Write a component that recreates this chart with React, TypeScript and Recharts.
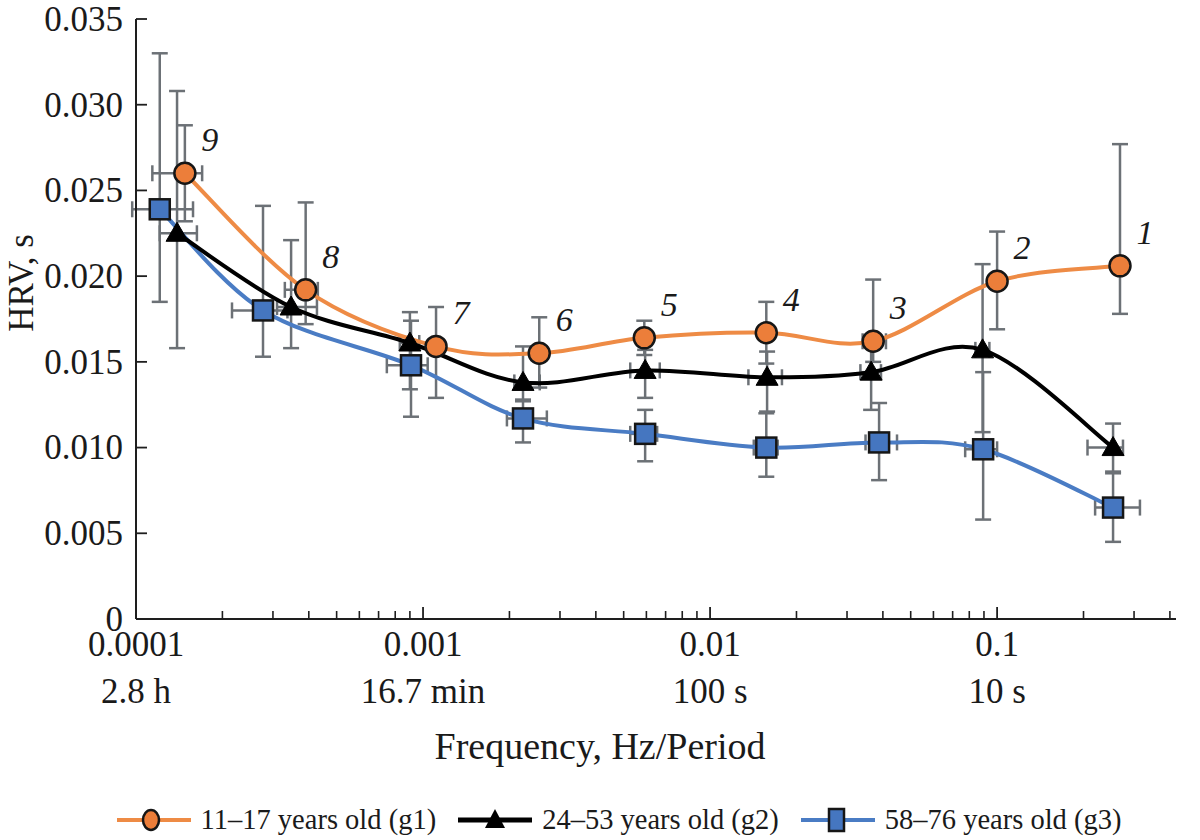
import React from 'react';
import { ComposedChart, Line, Scatter, XAxis, YAxis, ErrorBar, Legend } from 'recharts';

// ---------- data ----------
const pointLabels = ['9', '8', '7', '6', '5', '4', '3', '2', '1'];
const seriesNames = ['11–17 years old (g1)', '24–53 years old (g2)', '58–76 years old (g3)'];

const g1Freq = [1.48e-4, 3.9e-4, 1.11e-3, 2.54e-3, 5.9e-3, 1.57e-2, 3.7e-2, 0.1, 0.268];
const g1Hrv = [0.026, 0.0192, 0.0159, 0.0155, 0.0164, 0.0167, 0.0162, 0.0197, 0.0206];
const g1ErrY = [[0.0028, 0.0028], [0.002, 0.0051], [0.003, 0.0023], [0.002, 0.0021], [0.001, 0.001], [0.0018, 0.0018], [0.0012, 0.0036], [0.0028, 0.0029], [0.0028, 0.0071]];
const g1ErrX = [[0.34e-4, 0.22e-4], [0.6e-4, 0.4e-4], [0.6e-4, 0.6e-4], [1.5e-4, 1.5e-4], [0.3e-3, 0.3e-3], [0.8e-3, 0.8e-3], [0.3e-2, 0.4e-2], [0.5e-2, 0.5e-2], [0.01, 0.01]];

const g2Freq = [1.39e-4, 3.47e-4, 9.0e-4, 2.23e-3, 5.94e-3, 1.58e-2, 3.64e-2, 8.9e-2, 0.2535];
const g2Hrv = [0.0225, 0.0182, 0.0161, 0.0138, 0.0145, 0.0141, 0.0144, 0.0157, 0.01];
const g2ErrY = [[0.0067, 0.0083], [0.0024, 0.0039], [0.0027, 0.0018], [0.001, 0.0021], [0.0016, 0.0012], [0.002, 0.0015], [0.0022, 0.0015], [0.0048, 0.005], [0.0014, 0.0014]];
const g2ErrX = [[0.18e-4, 0.24e-4], [0.37e-4, 0.8e-4], [0.7e-4, 0.7e-4], [1.5e-4, 3.2e-4], [6.7e-4, 7.4e-4], [0.22e-2, 0.2e-2], [0.3e-2, 0.3e-2], [0.5e-2, 0.5e-2], [0.047, 0.021]];

const g3Freq = [1.21e-4, 2.77e-4, 9.08e-4, 2.23e-3, 5.94e-3, 1.57e-2, 3.88e-2, 8.94e-2, 0.2535];
const g3Hrv = [0.0239, 0.018, 0.0148, 0.0117, 0.0108, 0.01, 0.0103, 0.0099, 0.0065];
const g3ErrY = [[0.0054, 0.0091], [0.0027, 0.0061], [0.003, 0.0026], [0.0014, 0.001], [0.0016, 0.0014], [0.0017, 0.002], [0.0022, 0.0023], [0.0041, 0.0045], [0.002, 0.002]];
const g3ErrX = [[0.24e-4, 0.37e-4], [0.61e-4, 0.6e-4], [1.6e-4, 1.3e-4], [2.7e-4, 4.7e-4], [0.67e-3, 0.6e-3], [0.15e-2, 0.15e-2], [0.4e-2, 0.6e-2], [1.2e-2, 1.06e-2], [0.034, 0.061]];

const majorTicks = [0.0001, 0.001, 0.01, 0.1];
const freqTickLabels = ['0.0001', '0.001', '0.01', '0.1'];
const periodTickLabels = ['2.8 h', '16.7 min', '100 s', '10 s'];
const minorTicks = [
  0.0002, 0.0003, 0.0004, 0.0005, 0.0006, 0.0007, 0.0008, 0.0009,
  0.002, 0.003, 0.004, 0.005, 0.006, 0.007, 0.008, 0.009,
  0.02, 0.03, 0.04, 0.05, 0.06, 0.07, 0.08, 0.09,
  0.2, 0.3, 0.4,
];
const yTicks = [0, 0.005, 0.01, 0.015, 0.02, 0.025, 0.03, 0.035];
const yTickLabels = ['0', '0.005', '0.010', '0.015', '0.020', '0.025', '0.030', '0.035'];

// ---------- build tables ----------
const build = (f: number[], h: number[], ey: number[][], ex: number[][], labels?: string[]) =>
  f.map((freq, i) => ({ freq, hrv: h[i], ey: ey[i], ex: ex[i], label: labels ? labels[i] : '' }));

const g1Data = build(g1Freq, g1Hrv, g1ErrY, g1ErrX, pointLabels);
const g2Data = build(g2Freq, g2Hrv, g2ErrY, g2ErrX);
const g3Data = build(g3Freq, g3Hrv, g3ErrY, g3ErrX);

// ---------- styles ----------
const W = 1200;
const H = 840;
const FONT = "'Liberation Serif', 'Times New Roman', serif";
const AXIS = '#1e1e1e';
const TEXT = '#1a1a1a';
const ERR = '#6c7176';
const ORANGE_LINE = '#EE8B45';
const ORANGE_FILL = '#EC7E3A';
const BLUE_LINE = '#4A7CC4';
const BLUE_FILL = '#4576C0';
const MARK_STROKE = '#161616';

// cardinal (Catmull-Rom like) curve factory
const smoothCurve = (context: any) => {
  let pts: number[][] = [];
  const k = 1 / 6;
  return {
    areaStart() {},
    areaEnd() {},
    lineStart() {
      pts = [];
    },
    point(x: number, y: number) {
      pts.push([+x, +y]);
    },
    lineEnd() {
      const n = pts.length;
      if (!n) return;
      context.moveTo(pts[0][0], pts[0][1]);
      for (let i = 0; i < n - 1; i++) {
        const p0 = pts[Math.max(i - 1, 0)];
        const p1 = pts[i];
        const p2 = pts[i + 1];
        const p3 = pts[Math.min(i + 2, n - 1)];
        context.bezierCurveTo(
          p1[0] + k * (p2[0] - p0[0]),
          p1[1] + k * (p2[1] - p0[1]),
          p2[0] - k * (p3[0] - p1[0]),
          p2[1] - k * (p3[1] - p1[1]),
          p2[0],
          p2[1]
        );
      }
    },
  };
};

const near = (a: number, b: number) => Math.abs(a - b) <= Math.abs(b) * 1e-6 + 1e-12;

const XTick = (props: any) => {
  const { x, y, payload } = props;
  const i = majorTicks.findIndex((t) => near(payload.value, t));
  if (i < 0) {
    return <line x1={x} x2={x} y1={y} y2={y - 8} stroke={AXIS} strokeWidth={1.6} />;
  }
  return (
    <g>
      <line x1={x} x2={x} y1={y} y2={y - 12} stroke={AXIS} strokeWidth={1.8} />
      <text x={x} y={y + 37} textAnchor="middle" fontFamily={FONT} fontSize={35} fill={TEXT}>
        {freqTickLabels[i]}
      </text>
      <text x={x} y={y + 84} textAnchor="middle" fontFamily={FONT} fontSize={35} fill={TEXT}>
        {periodTickLabels[i]}
      </text>
    </g>
  );
};

const YTick = (props: any) => {
  const { x, y, payload } = props;
  const i = yTicks.findIndex((t) => near(payload.value, t));
  return (
    <g>
      {i > 0 && <line x1={x} x2={x + 11} y1={y} y2={y} stroke={AXIS} strokeWidth={1.8} />}
      <text x={x - 13} y={y} dy="0.34em" textAnchor="end" fontFamily={FONT} fontSize={35} fill={TEXT}>
        {i >= 0 ? yTickLabels[i] : ''}
      </text>
    </g>
  );
};

const XTitle = (props: any) => {
  const vb = props.viewBox || { y: 0 };
  return (
    <text x={W / 2} y={vb.y + 140} textAnchor="middle" fontFamily={FONT} fontSize={38} fill={TEXT}>
      Frequency, Hz/Period
    </text>
  );
};

const YTitle = () => (
  <text x={33} y={283} transform="rotate(-90 33 283)" textAnchor="middle" fontFamily={FONT} fontSize={35} fill={TEXT}>
    HRV, s
  </text>
);

const CircleMark = (p: any) => {
  const { cx, cy, payload } = p;
  if (cx == null || cy == null) return <g />;
  return (
    <g>
      <circle cx={cx} cy={cy} r={10.5} fill={ORANGE_FILL} stroke={MARK_STROKE} strokeWidth={2.5} />
      {payload && payload.label ? (
        <text x={cx + 25} y={cy - 22} textAnchor="middle" fontFamily={FONT} fontStyle="italic" fontSize={34} fill={TEXT}>
          {payload.label}
        </text>
      ) : null}
    </g>
  );
};

const TriangleMark = (p: any) => {
  const { cx, cy } = p;
  if (cx == null || cy == null) return <g />;
  return <polygon points={`${cx},${cy - 11} ${cx - 11},${cy + 8} ${cx + 11},${cy + 8}`} fill="#000" stroke="#000" strokeWidth={1} />;
};

const SquareMark = (p: any) => {
  const { cx, cy } = p;
  if (cx == null || cy == null) return <g />;
  return <rect x={cx - 10} y={cy - 10} width={20} height={20} fill={BLUE_FILL} stroke={MARK_STROKE} strokeWidth={2.5} />;
};

const NoMark = () => <g />;

const LegendIcon = ({ kind }: { kind: number }) => {
  const color = kind === 0 ? ORANGE_LINE : kind === 1 ? '#000' : BLUE_LINE;
  return (
    <svg width={74} height={30} style={{ display: 'block' }}>
      <line x1={0} x2={74} y1={15} y2={15} stroke={color} strokeWidth={kind === 1 ? 5 : 4} />
      {kind === 0 && <ellipse cx={34} cy={15} rx={8} ry={10} fill={ORANGE_FILL} stroke={MARK_STROKE} strokeWidth={2.5} />}
      {kind === 1 && <polygon points="37,4 27,23 47,23" fill="#000" />}
      {kind === 2 && <rect x={28} y={4} width={15} height={22} fill={BLUE_FILL} stroke={MARK_STROKE} strokeWidth={2.5} />}
    </svg>
  );
};

const LegendContent = () => (
  <div
    style={{
      display: 'flex',
      justifyContent: 'center',
      alignItems: 'center',
      height: 40,
      paddingLeft: 38,
      fontFamily: FONT,
      fontSize: 28.5,
      color: TEXT,
      whiteSpace: 'nowrap',
    }}
  >
    {seriesNames.map((name, i) => (
      <div key={name} style={{ display: 'flex', alignItems: 'center', marginRight: i < 2 ? 22 : 0 }}>
        <LegendIcon kind={i} />
        <span style={{ marginLeft: 10 }}>{name}</span>
      </div>
    ))}
  </div>
);

export default function App() {
  return (
    <div style={{ position: 'absolute', left: 0, top: 0, width: W, height: H, background: '#fff' }}>
      <ComposedChart width={W} height={H} margin={{ top: 19, right: 24, bottom: 0, left: 0 }}>
        <XAxis
          dataKey="freq"
          type="number"
          scale="log"
          domain={[0.0001, 0.42]}
          allowDataOverflow
          ticks={[...majorTicks, ...minorTicks]}
          interval={0}
          tick={<XTick />}
          tickLine={false}
          tickSize={0}
          tickMargin={0}
          axisLine={{ stroke: AXIS, strokeWidth: 2 }}
          height={181}
          label={<XTitle />}
        />
        <YAxis
          dataKey="hrv"
          type="number"
          domain={[0, 0.035]}
          allowDataOverflow
          ticks={yTicks}
          interval={0}
          tick={<YTick />}
          tickLine={false}
          tickSize={0}
          tickMargin={0}
          axisLine={{ stroke: AXIS, strokeWidth: 2 }}
          width={136}
          label={<YTitle />}
        />
        <Legend
          verticalAlign="bottom"
          content={<LegendContent />}
          wrapperStyle={{ position: 'absolute', left: 0, top: 800, width: W, height: 40 }}
        />

        {/* error bars (drawn first, under lines and markers) */}
        <Scatter data={g3Data} dataKey="hrv" shape={<NoMark />} isAnimationActive={false} legendType="none">
          <ErrorBar dataKey="ey" direction="y" stroke={ERR} strokeWidth={2.5} width={8} />
          <ErrorBar dataKey="ex" direction="x" stroke={ERR} strokeWidth={2.5} width={8} />
        </Scatter>
        <Scatter data={g2Data} dataKey="hrv" shape={<NoMark />} isAnimationActive={false} legendType="none">
          <ErrorBar dataKey="ey" direction="y" stroke={ERR} strokeWidth={2.5} width={8} />
          <ErrorBar dataKey="ex" direction="x" stroke={ERR} strokeWidth={2.5} width={8} />
        </Scatter>
        <Scatter data={g1Data} dataKey="hrv" shape={<NoMark />} isAnimationActive={false} legendType="none">
          <ErrorBar dataKey="ey" direction="y" stroke={ERR} strokeWidth={2.5} width={8} />
          <ErrorBar dataKey="ex" direction="x" stroke={ERR} strokeWidth={2.5} width={8} />
        </Scatter>

        {/* smooth lines */}
        <Line data={g3Data} dataKey="hrv" type={smoothCurve as any} stroke={BLUE_LINE} strokeWidth={4} dot={false} activeDot={false} isAnimationActive={false} name={seriesNames[2]} />
        <Line data={g2Data} dataKey="hrv" type={smoothCurve as any} stroke="#000" strokeWidth={4} dot={false} activeDot={false} isAnimationActive={false} name={seriesNames[1]} />
        <Line data={g1Data} dataKey="hrv" type={smoothCurve as any} stroke={ORANGE_LINE} strokeWidth={4} dot={false} activeDot={false} isAnimationActive={false} name={seriesNames[0]} />

        {/* markers */}
        <Scatter data={g3Data} dataKey="hrv" shape={<SquareMark />} isAnimationActive={false} legendType="none" />
        <Scatter data={g2Data} dataKey="hrv" shape={<TriangleMark />} isAnimationActive={false} legendType="none" />
        <Scatter data={g1Data} dataKey="hrv" shape={<CircleMark />} isAnimationActive={false} legendType="none" />
      </ComposedChart>
    </div>
  );
}
